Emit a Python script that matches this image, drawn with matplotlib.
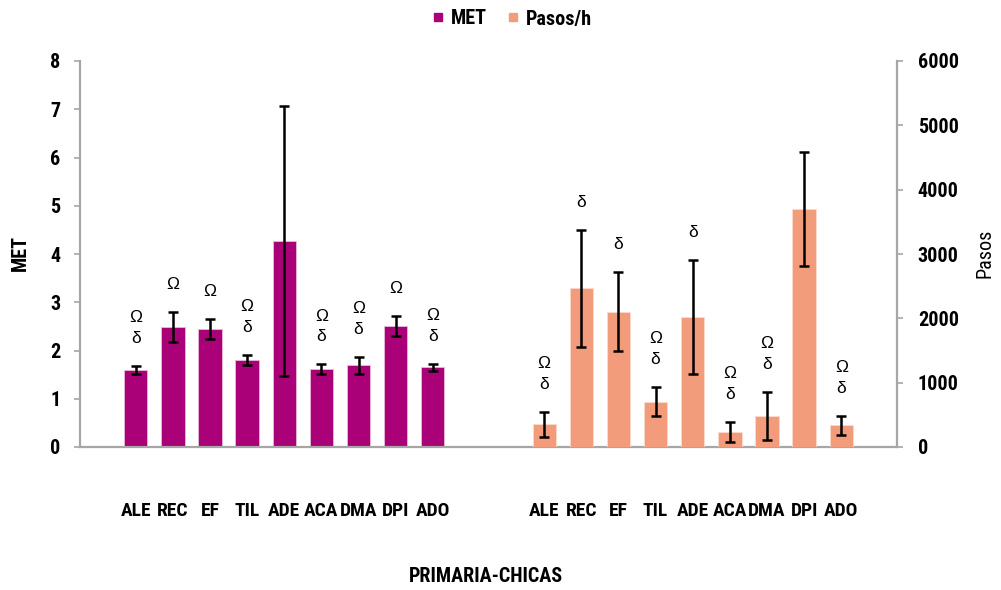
import matplotlib
matplotlib.use("Agg")
import matplotlib.pyplot as plt
from matplotlib import font_manager as fm
from matplotlib.lines import Line2D

# Activity categories (same order in both groups)
categories = ["ALE", "REC", "EF", "TIL", "ADE", "ACA", "DMA", "DPI", "ADO"]

# MET (left axis) mean and error
met = [1.60, 2.49, 2.45, 1.80, 4.27, 1.61, 1.69, 2.51, 1.65]
met_err = [0.08, 0.31, 0.21, 0.10, 2.79, 0.10, 0.17, 0.20, 0.07]
met_marks = ["Ωδ", "Ω", "Ω", "Ωδ", "", "Ωδ", "Ωδ", "Ω", "Ωδ"]

# Pasos/h (right axis) mean and error
pasos = [353, 2467, 2103, 705, 2021, 228, 482, 3700, 337]
pasos_err = [190, 905, 610, 225, 890, 158, 373, 880, 143]
pasos_marks = ["Ωδ", "δ", "δ", "Ωδ", "δ", "Ωδ", "Ωδ", "", "Ωδ"]

met_ticks = [0, 1, 2, 3, 4, 5, 6, 7, 8]
pasos_ticks = [0, 1000, 2000, 3000, 4000, 5000, 6000]

MET_COLOR = "#AA0078"
PASOS_COLOR = "#F39C7C"
SPINE = "#A6A6A6"
SYM_FONT = ["Liberation Sans", "DejaVu Sans"]


def pick_condensed(bold):
    """Find a narrow/condensed face among installed fonts."""
    prefs = ["Roboto Condensed", "Open Sans Condensed", "Liberation Sans Narrow",
             "DejaVu Sans Condensed", "Noto Sans Condensed", "Arial Narrow"]
    found = []
    for f in fm.fontManager.ttflist:
        tag = (f.name + " " + f.fname).lower()
        narrow = ("condensed" in tag or "narrow" in tag
                  or f.stretch in ("condensed", "semi-condensed", "extra-condensed"))
        if not narrow or "italic" in tag or "oblique" in tag:
            continue
        w = f.weight if isinstance(f.weight, int) else (700 if "bold" in str(f.weight) else 400)
        if bold and w < 600:
            continue
        if not bold and w >= 600:
            continue
        found.append(f)
    for p in prefs:
        for f in found:
            if p.lower().replace(" ", "") in (f.name + f.fname).lower().replace(" ", ""):
                return fm.FontProperties(fname=f.fname)
    if found:
        return fm.FontProperties(fname=found[0].fname)
    return fm.FontProperties(family="DejaVu Sans", weight="bold" if bold else "normal")


BOLD = pick_condensed(True)
REG = pick_condensed(False)


def fp(base, size):
    p = base.copy()
    p.set_size(size)
    return p


fig = plt.figure(figsize=(10.01, 5.9), dpi=100)
W, H = 1001, 590
ax = fig.add_axes([80 / W, (H - 447) / H, 817 / W, 386 / H])
ax2 = ax.twinx()

# slot layout: empty slot, group 1, two empty slots, group 2, empty slot
x_met = list(range(1, 10))
x_pasos = list(range(12, 21))

ax.set_xlim(-0.5, 21.5)
ax.set_ylim(0, 8)
ax2.set_ylim(0, 6000)

err_style = dict(elinewidth=1.8, capthick=1.8, ecolor="black", capsize=3.8)
ax.bar(x_met, met, width=0.63, yerr=met_err, color=MET_COLOR,
       edgecolor="#E9B9D8", linewidth=0.6, error_kw=err_style, zorder=2)
ax2.bar(x_pasos, pasos, width=0.63, yerr=pasos_err, color=PASOS_COLOR,
        edgecolor="#FBD9CB", linewidth=0.6, error_kw=err_style, zorder=2)


def draw_marks(axis, xs, vals, errs, marks):
    for x, v, e, m in zip(xs, vals, errs, marks):
        for k, ch in enumerate(reversed(m)):
            axis.annotate(ch, xy=(x, v + e), xycoords="data",
                          xytext=(0, 19.8 + 15.1 * k), textcoords="offset points",
                          ha="center", va="center", fontsize=12.5,
                          family=SYM_FONT, color="black")


draw_marks(ax, x_met, met, met_err, met_marks)
draw_marks(ax2, x_pasos, pasos, pasos_err, pasos_marks)

ax.set_xticks(x_met + x_pasos)
ax.set_xticklabels(categories + categories, fontproperties=fp(BOLD, 14))
ax.tick_params(axis="x", length=0, pad=39.5)

ax.set_yticks(met_ticks)
ax.set_yticklabels([str(t) for t in met_ticks], fontproperties=fp(BOLD, 14.5))
ax.tick_params(axis="y", direction="out", length=4, width=1.2,
               color=SPINE, pad=10)
ax2.set_yticks(pasos_ticks)
ax2.set_yticklabels([str(t) for t in pasos_ticks], fontproperties=fp(BOLD, 14.5))
ax2.tick_params(axis="y", direction="out", length=4, width=1.2,
                color=SPINE, pad=11)

for a in (ax, ax2):
    a.spines["top"].set_visible(False)
    for s in ("left", "right", "bottom"):
        a.spines[s].set_color(SPINE)
        a.spines[s].set_linewidth(1.6)
ax2.spines["bottom"].set_visible(False)
ax2.spines["left"].set_visible(False)
ax.spines["right"].set_visible(False)

fig.text(20 / W, 1 - 253 / H, "MET", rotation=90, ha="center", va="center",
         fontproperties=fp(BOLD, 14.5))
fig.text(985 / W, 1 - 253 / H, "Pasos", rotation=90, ha="center", va="center",
         fontproperties=fp(REG, 14.5))
fig.text(486 / W, 1 - 577 / H, "PRIMARIA-CHICAS", ha="center", va="center",
         fontproperties=fp(BOLD, 14.5))

handles = [Line2D([], [], marker="s", linestyle="none", markersize=6,
                  color=MET_COLOR, label="MET"),
           Line2D([], [], marker="s", linestyle="none", markersize=6,
                  color=PASOS_COLOR, label="Pasos/h")]
fig.legend(handles=handles, loc="center", bbox_to_anchor=(512 / W, 1 - 19 / H),
           ncol=2, frameon=False, handlelength=0.6, handletextpad=0.35,
           columnspacing=1.0, prop=fp(BOLD, 14.5))

fig.savefig("out.png", dpi=100)
